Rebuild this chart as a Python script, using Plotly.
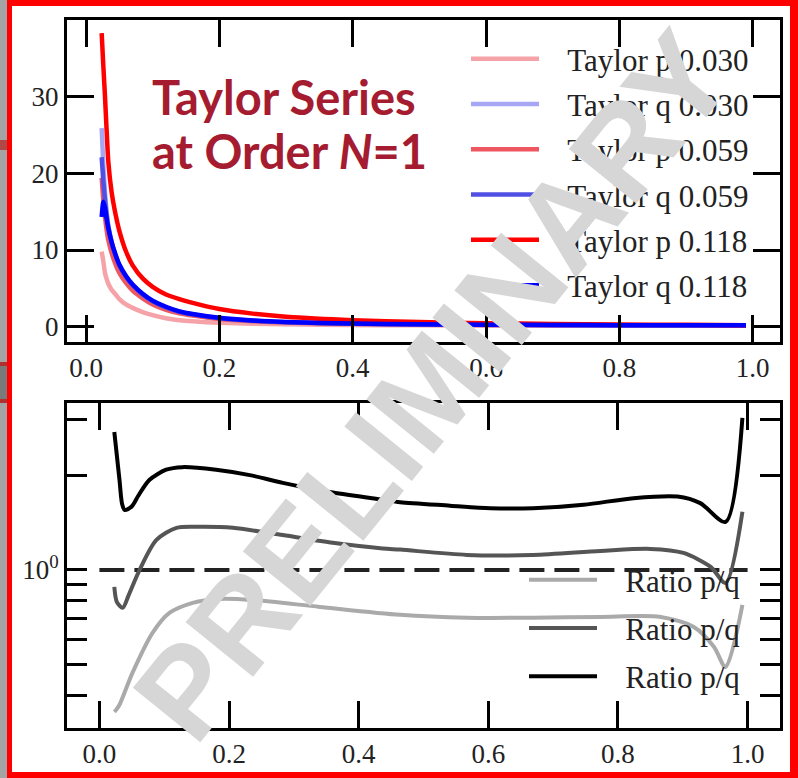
import plotly.graph_objects as go

W, H = 798, 778

# ---------------- data: Taylor expansion, order N=1 ----------------
x_top = [0.0235, 0.026, 0.0285, 0.031, 0.0335, 0.0385, 0.0435, 0.05, 0.06, 0.07,
         0.085, 0.1, 0.12, 0.14, 0.16, 0.2, 0.25, 0.3, 0.4, 0.5, 0.6, 0.7, 0.8, 0.9, 0.99]

taylor_p_030 = [9.8, 8.5, 7.0, 6.2, 5.6, 4.8, 4.3, 3.6, 2.9, 2.45, 1.9, 1.5, 1.1, 0.85, 0.7,
                0.5, 0.38, 0.3, 0.22, 0.18, 0.16, 0.15, 0.14, 0.13, 0.12]
taylor_q_030 = [25.9, 21.0, 17.5, 15.0, 13.2, 11.0, 9.4, 7.9, 6.4, 5.3, 4.1, 3.2, 2.4, 1.9, 1.55,
                1.05, 0.75, 0.56, 0.38, 0.28, 0.23, 0.2, 0.18, 0.17, 0.16]
taylor_p_059 = [19.4, 16.5, 14.3, 12.6, 11.3, 9.6, 8.3, 7.0, 5.7, 4.7, 3.7, 2.9, 2.2, 1.75, 1.45,
                1.0, 0.72, 0.55, 0.37, 0.28, 0.23, 0.2, 0.18, 0.17, 0.16]
taylor_q_059 = [22.1, 19.0, 16.5, 14.5, 13.0, 11.0, 9.5, 8.0, 6.5, 5.4, 4.2, 3.3, 2.5, 1.95, 1.6,
                1.1, 0.78, 0.58, 0.39, 0.29, 0.24, 0.21, 0.19, 0.18, 0.17]
taylor_p_118 = [38.3, 34.0, 30.0, 25.5, 21.5, 17.5, 15.0, 12.5, 9.8, 8.0, 6.3, 5.2, 4.2, 3.6, 3.1,
                2.3, 1.7, 1.3, 0.85, 0.6, 0.45, 0.36, 0.29, 0.24, 0.2]
taylor_q_118 = [14.3, 16.3, 15.5, 14.0, 12.8, 11.0, 9.6, 8.1, 6.6, 5.5, 4.3, 3.4, 2.6, 2.0, 1.65,
                1.15, 0.8, 0.6, 0.4, 0.3, 0.25, 0.22, 0.2, 0.18, 0.17]

top_series = [
    ("Taylor p 0.030", taylor_p_030, "#f5a3a8"),
    ("Taylor q 0.030", taylor_q_030, "#a6a6f5"),
    ("Taylor p 0.059", taylor_p_059, "#ee5660"),
    ("Taylor q 0.059", taylor_q_059, "#5050e4"),
    ("Taylor p 0.118", taylor_p_118, "#ff0000"),
    ("Taylor q 0.118", taylor_q_118, "#0000ff"),
]

# ---------------- data: ratio p/q ----------------
ratio_030_x = [0.023, 0.026, 0.031, 0.051, 0.082, 0.108, 0.144, 0.185, 0.236, 0.34, 0.464,
               0.567, 0.669, 0.773, 0.866, 0.917, 0.948, 0.966, 0.992]
ratio_030_y = [0.354, 0.36, 0.373, 0.471, 0.631, 0.730, 0.786, 0.809, 0.803, 0.763, 0.72,
               0.705, 0.705, 0.709, 0.709, 0.659, 0.570, 0.492, 0.774]

ratio_059_x = [0.023, 0.027, 0.036, 0.045, 0.062, 0.088, 0.119, 0.155, 0.206, 0.283, 0.36,
               0.437, 0.464, 0.567, 0.669, 0.773, 0.85, 0.901, 0.943, 0.966, 0.992]
ratio_059_y = [0.883, 0.79, 0.758, 0.83, 1.0, 1.245, 1.36, 1.37, 1.36, 1.29, 1.22,
               1.17, 1.16, 1.116, 1.116, 1.149, 1.166, 1.132, 1.022, 0.909, 1.53]

ratio_118_x = [0.023, 0.031, 0.035, 0.039, 0.044, 0.051, 0.06, 0.077, 0.103, 0.128, 0.18,
               0.232, 0.283, 0.36, 0.437, 0.464, 0.541, 0.603, 0.669, 0.747, 0.824, 0.892,
               0.927, 0.966, 0.992]
ratio_118_y = [2.74, 1.93, 1.62, 1.55, 1.56, 1.6, 1.72, 1.93, 2.08, 2.12, 2.08,
               2.0, 1.89, 1.76, 1.67, 1.64, 1.60, 1.57, 1.57, 1.61, 1.69, 1.71,
               1.63, 1.42, 3.04]

ratio_series = [
    ("Ratio p/q", ratio_030_x, ratio_030_y, "#aaaaaa"),
    ("Ratio p/q", ratio_059_x, ratio_059_y, "#555555"),
    ("Ratio p/q", ratio_118_x, ratio_118_y, "#000000"),
]

unity_x = [0.0, 1.0]
unity_y = [1.0, 1.0]

top_xticks = [0.0, 0.2, 0.4, 0.6, 0.8, 1.0]
top_xlabels = ["0.0", "0.2", "0.4", "0.6", "0.8", "1.0"]
top_yticks = [0, 10, 20, 30]
ratio_major = [1]
ratio_major_labels = ["10<sup>0</sup>"]
ratio_minor = [0.4, 0.5, 0.6, 0.7, 0.8, 0.9, 2, 3]

NBSP = "\u00a0"
LEGEND_PAD = NBSP * 3  # room between the line sample and the label


def px(x):
    return x / W


def py(y):
    return 1 - y / H


fig = go.Figure()

for i, (name, ys, color) in enumerate(top_series):
    fig.add_trace(go.Scatter(
        x=x_top, y=ys, mode="lines", name=LEGEND_PAD + name,
        line=dict(color=color, width=4.5, shape="spline", smoothing=0.6),
        xaxis="x", yaxis="y", legend="legend", legendgroup=f"t{i}",
    ))

fig.add_trace(go.Scatter(
    x=unity_x, y=unity_y, mode="lines", showlegend=False,
    line=dict(color="#222222", width=4, dash="25px,10px"),
    xaxis="x2", yaxis="y2",
))

for i, (name, xs, ys, color) in enumerate(ratio_series):
    fig.add_trace(go.Scatter(
        x=xs, y=ys, mode="lines", name=LEGEND_PAD + name,
        line=dict(color=color, width=4, shape="spline", smoothing=0.8),
        xaxis="x2", yaxis="y2", legend="legend2", legendgroup=f"r{i}",
    ))

tick_font = dict(family="Liberation Serif", size=27, color="#222222")
common_axis = dict(
    showline=True, linecolor="black", linewidth=3, mirror="ticks",
    ticks="inside", tickcolor="black", tickwidth=3,
    showgrid=False, zeroline=False, tickfont=tick_font,
)
legend_font = dict(family="Liberation Serif", size=31, color="#222222")

fig.update_layout(
    width=W, height=H,
    margin=dict(l=0, r=0, t=0, b=0),
    paper_bgcolor="white", plot_bgcolor="white",
    showlegend=True,
    xaxis=dict(domain=[px(67), px(780)], range=[-0.0285, 1.041], anchor="y",
               tickmode="array", tickvals=top_xticks, ticktext=top_xlabels,
               ticklen=27, **common_axis),
    yaxis=dict(domain=[py(342), py(20)], range=[-2, 40], anchor="x",
               tickmode="array", tickvals=top_yticks, ticklen=27, **common_axis),
    xaxis2=dict(domain=[px(67), px(780)], range=[-0.05, 1.05], anchor="y2",
                tickmode="array", tickvals=top_xticks, ticktext=top_xlabels,
                ticklen=27, **common_axis),
    yaxis2=dict(domain=[py(728), py(403)], type="log", range=[-0.502, 0.530], anchor="x2",
                tickmode="array", tickvals=ratio_major, ticktext=ratio_major_labels,
                ticklen=20,
                minor=dict(tickmode="array", tickvals=ratio_minor, ticks="inside",
                           ticklen=20, tickwidth=2.5, tickcolor="black"),
                **common_axis),
    legend=dict(
        x=px(466), y=py(32), xanchor="left", yanchor="top",
        bgcolor="rgba(255,255,255,0)", borderwidth=0, font=legend_font,
        itemwidth=68, tracegroupgap=2, traceorder="grouped",
    ),
    legend2=dict(
        x=px(524), y=py(553), xanchor="left", yanchor="top",
        bgcolor="rgba(255,255,255,0)", borderwidth=0, font=legend_font,
        itemwidth=68, tracegroupgap=5, traceorder="grouped",
    ),
)

# heading inside the upper panel, one annotation per line
heading_lines = ["Taylor Series", "at Order <i>N</i>=1"]
heading_tops = [67, 121]
for line, top in zip(heading_lines, heading_tops):
    fig.add_annotation(
        x=px(150), y=py(top), xref="paper", yref="paper",
        xanchor="left", yanchor="top", align="left", showarrow=False,
        text=line,
        font=dict(family="Lato", size=47, color="#a51c30", weight="bold"),
    )

# watermark
fig.add_annotation(
    x=px(432), y=py(386), xref="paper", yref="paper",
    xanchor="center", yanchor="middle", showarrow=False,
    text="PRELIMINARY", textangle=-51,
    font=dict(family="Liberation Sans", size=126, color="#d6d6d6", weight="bold"),
)

# slide frame: grey strip on the left and red border
frame = [
    dict(x0=0, x1=7, y0=0, y1=H, color="#a4a4a4"),
    dict(x0=0, x1=7, y0=140, y1=150, color="#b04848"),
    dict(x0=0, x1=7, y0=362, y1=402, color="#7a7a7a"),
    dict(x0=0, x1=7, y0=362, y1=366, color="#b03030"),
    dict(x0=0, x1=7, y0=399, y1=403, color="#b03030"),
    dict(x0=7, x1=W, y0=0, y1=6, color="#ff0000"),
    dict(x0=7, x1=12, y0=0, y1=H, color="#ff0000"),
    dict(x0=790, x1=W, y0=0, y1=H, color="#ff0000"),
    dict(x0=7, x1=W, y0=772, y1=H, color="#ff0000"),
]
for f in frame:
    fig.add_shape(type="rect", xref="paper", yref="paper",
                  x0=px(f["x0"]), x1=px(f["x1"]), y0=py(f["y1"]), y1=py(f["y0"]),
                  fillcolor=f["color"], line=dict(width=0), layer="above")

fig.write_html("out.html")
